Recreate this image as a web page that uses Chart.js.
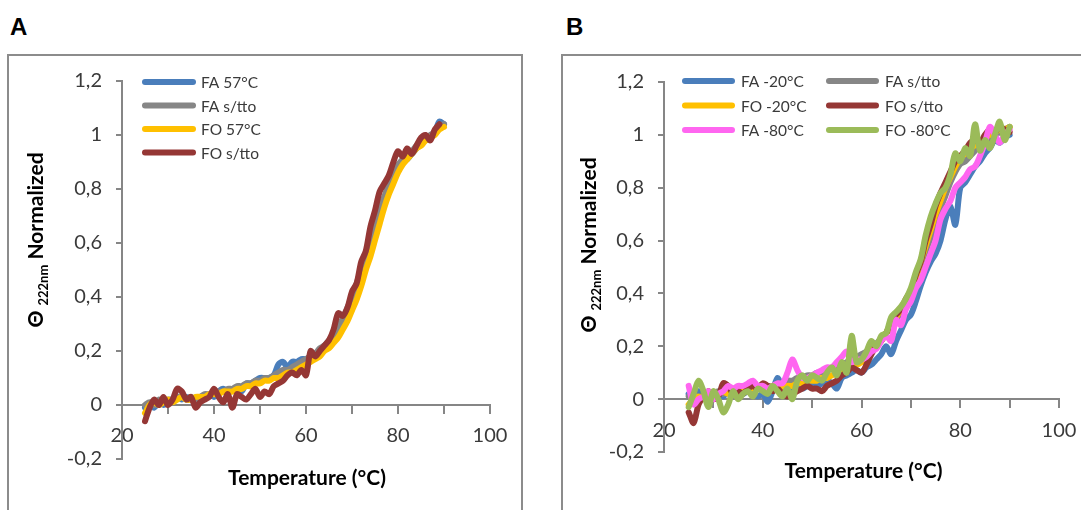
<!DOCTYPE html>
<html><head><meta charset="utf-8">
<script src="https://cdn.jsdelivr.net/npm/chart.js@4.4.1/dist/chart.umd.min.js"></script>
<style>
html,body{margin:0;padding:0;background:#fff;width:1081px;height:510px;overflow:hidden;position:relative;}
.panel{position:absolute;border:2px solid #8c8c8c;box-sizing:border-box;}
canvas{position:absolute;}
.lbl{position:absolute;font:bold 24px "Liberation Sans",Arial,sans-serif;color:#000;line-height:24px;}
</style></head><body>
<div class="lbl" style="left:10px;top:15px">A</div>
<div class="lbl" style="left:566px;top:15px">B</div>
<div class="panel" style="left:7px;top:54px;width:516px;height:480px"></div>
<div class="panel" style="left:561px;top:54px;width:560px;height:480px"></div>
<canvas id="cA" width="514" height="455" style="left:8px;top:55px"></canvas>
<canvas id="cB" width="545" height="455" style="left:562px;top:55px"></canvas>
<script>
// ---- data ----
const temps = [25,26,27,28,29,30,31,32,33,34,35,36,37,38,39,40,41,42,43,44,45,46,47,48,49,50,51,52,53,54,55,56,57,58,59,60,61,62,63,64,65,66,67,68,69,70,71,72,73,74,75,76,77,78,79,80,81,82,83,84,85,86,87,88,89,90];

// Panel A
const A_labels = ['FA 57°C','FA s/tto','FO 57°C','FO s/tto'];
const A_FA_57 = [-0.01,0.0,-0.01,0.01,0.0,0.01,0.02,0.03,0.02,0.03,0.02,0.01,0.02,0.03,0.04,0.03,0.05,0.06,0.05,0.06,0.06,0.05,0.08,0.08,0.09,0.1,0.1,0.1,0.11,0.15,0.16,0.14,0.16,0.16,0.17,0.17,0.18,0.19,0.2,0.22,0.23,0.25,0.27,0.3,0.34,0.38,0.42,0.48,0.53,0.58,0.63,0.69,0.74,0.79,0.84,0.88,0.9,0.91,0.93,0.95,0.97,0.98,0.99,1.01,1.05,1.04];
const A_FA_stto = [0.0,0.01,0.0,0.02,0.01,0.02,0.02,0.03,0.03,0.02,0.03,0.02,0.03,0.04,0.04,0.05,0.05,0.05,0.06,0.06,0.07,0.07,0.08,0.08,0.09,0.09,0.1,0.1,0.11,0.12,0.13,0.13,0.14,0.15,0.16,0.17,0.18,0.19,0.21,0.22,0.24,0.26,0.29,0.32,0.36,0.4,0.45,0.5,0.56,0.62,0.67,0.73,0.77,0.82,0.86,0.89,0.91,0.93,0.94,0.96,0.97,0.99,1.0,1.01,1.03,1.04];
const A_FO_57 = [-0.03,0.0,0.01,0.0,0.01,0.02,0.01,0.02,0.03,0.02,0.02,0.03,0.03,0.03,0.04,0.04,0.04,0.05,0.05,0.05,0.06,0.06,0.07,0.07,0.08,0.08,0.09,0.09,0.1,0.1,0.11,0.12,0.12,0.13,0.14,0.15,0.16,0.17,0.18,0.2,0.21,0.23,0.25,0.28,0.31,0.35,0.39,0.44,0.5,0.55,0.61,0.67,0.73,0.78,0.82,0.86,0.89,0.91,0.93,0.95,0.96,0.98,0.99,1.0,1.02,1.03];
const A_FO_stto = [-0.06,-0.01,0.02,0.0,0.03,0.0,0.02,0.06,0.05,0.02,0.03,-0.01,0.01,0.02,0.03,0.06,0.03,0.01,0.04,-0.01,0.04,0.03,0.02,0.04,0.06,0.03,0.05,0.04,0.07,0.08,0.09,0.11,0.12,0.11,0.13,0.11,0.2,0.18,0.2,0.22,0.24,0.28,0.34,0.33,0.36,0.42,0.45,0.53,0.57,0.66,0.72,0.79,0.82,0.85,0.9,0.94,0.92,0.95,0.93,0.96,0.99,1.0,0.98,1.02,1.04,null];

// Panel B
const B_labels = ['FA -20°C','FA s/tto','FO -20°C','FO s/tto','FA -80°C','FO -80°C'];
const B_FA_20 = [0.02,0.0,0.03,0.01,0.02,0.0,0.02,0.01,0.03,0.02,0.03,0.02,0.03,0.02,0.01,0.02,-0.01,0.03,0.08,0.04,0.03,0.04,0.05,0.04,0.05,0.06,0.05,0.06,0.07,0.06,0.04,0.08,0.09,0.1,0.11,0.1,0.12,0.13,0.15,0.17,0.2,0.17,0.22,0.26,0.3,0.32,0.37,0.43,0.48,0.52,0.55,0.6,0.68,0.73,0.66,0.8,0.82,0.85,0.88,0.9,0.93,0.95,0.98,0.97,0.99,1.0];
const B_FA_stto = [0.01,0.02,0.0,0.02,0.01,0.02,0.03,0.02,0.03,0.03,0.02,0.04,0.03,0.04,0.04,0.05,0.05,0.05,0.06,0.06,0.07,0.07,0.08,0.08,0.09,0.09,0.1,0.1,0.11,0.12,0.12,0.13,0.14,0.15,0.16,0.17,0.18,0.2,0.21,0.23,0.25,0.27,0.3,0.33,0.37,0.41,0.46,0.51,0.56,0.61,0.66,0.72,0.77,0.82,0.86,0.89,0.9,0.92,0.94,0.96,0.97,0.99,1.0,1.01,1.02,1.03];
const B_FO_20 = [-0.02,0.0,0.01,0.0,0.02,0.01,0.02,0.03,0.02,0.03,0.03,0.03,0.04,0.04,0.04,0.05,0.04,0.05,0.05,0.04,0.05,0.05,0.06,0.06,0.07,0.07,0.07,0.08,0.08,0.09,0.1,0.11,0.12,0.13,0.13,0.14,0.16,0.18,0.2,0.22,0.25,0.28,0.31,0.34,0.37,0.41,0.46,0.52,0.58,0.64,0.7,0.75,0.8,0.84,0.88,0.91,0.93,0.95,0.96,0.97,0.99,1.0,1.01,1.02,1.02,1.03];
const B_FO_stto = [-0.05,-0.09,-0.02,0.01,0.03,0.0,0.01,0.06,0.05,0.02,0.03,0.02,0.04,0.05,0.04,0.06,0.05,0.03,0.04,0.02,0.01,0.02,0.03,0.04,0.05,0.04,0.04,0.03,0.05,0.06,0.07,0.09,0.1,0.12,0.11,0.1,0.13,0.17,0.2,0.22,0.25,0.29,0.32,0.34,0.38,0.41,0.47,0.52,0.6,0.66,0.73,0.78,0.82,0.86,0.9,0.92,0.94,0.97,0.98,0.97,1.0,1.02,1.01,1.03,1.02,1.01];
const B_FA_80 = [0.05,-0.02,0.0,0.01,0.03,0.0,0.02,0.03,0.05,0.04,0.05,0.05,0.06,0.07,0.05,0.05,0.04,0.05,0.06,0.06,0.1,0.15,0.11,0.08,0.08,0.09,0.1,0.11,0.12,0.12,0.14,0.16,0.18,0.14,0.15,0.15,0.16,0.18,0.19,0.22,0.24,0.22,0.3,0.28,0.34,0.37,0.42,0.45,0.5,0.55,0.6,0.68,0.72,0.75,0.8,0.82,0.84,0.87,0.88,0.92,0.97,1.03,1.0,0.97,1.0,1.02];
const B_FO_80 = [-0.03,0.02,0.07,0.03,-0.03,0.03,0.0,-0.05,-0.02,0.03,0.0,0.02,0.03,0.01,0.04,0.03,0.02,0.05,0.03,0.01,0.04,0.0,0.07,0.09,0.07,0.09,0.08,0.07,0.1,0.12,0.09,0.14,0.1,0.24,0.14,0.15,0.18,0.22,0.2,0.24,0.25,0.31,0.33,0.35,0.38,0.42,0.48,0.53,0.62,0.69,0.74,0.78,0.8,0.85,0.93,0.9,0.95,0.92,1.04,0.94,0.98,0.95,1.0,1.05,0.98,1.03];

const yTickValues = [-0.2,0,0.2,0.4,0.6,0.8,1.0,1.2];
const xTickLabels = ['20','40','60','80','100'];

// ---- styling ----
const AXIS = '#868686';
const TICK = '#3a3a3a';
const C_BLUE = '#4a7ebb', C_GRAY = '#868686', C_YEL = '#ffc000', C_RED = '#953735', C_PINK = '#ff66f0', C_GREEN = '#9bbb59';

function series(vals){ return temps.map((t,i)=>({x:t, y:vals[i]})); }

const lineLegend = {
  id:'lineLegend',
  afterDraw(chart, args, o){
    const ctx = chart.ctx;
    chart.data.datasets.forEach((ds,i)=>{
      const col = i % o.cols, row = Math.floor(i / o.cols);
      const x = o.x + col*o.colW, y = o.y + row*o.rowH;
      ctx.save();
      ctx.strokeStyle = ds.borderColor; ctx.lineWidth = o.lineW; ctx.lineCap = 'round';
      ctx.beginPath(); ctx.moveTo(x+3, y); ctx.lineTo(x+o.len-3, y); ctx.stroke();
      ctx.fillStyle = TICK; ctx.font = '15.5px Lato'; ctx.textBaseline = 'middle'; ctx.textAlign = 'left';
      ctx.fillText(ds.label, x + o.len + o.gap, y + 1);
      ctx.restore();
    });
  }
};

const axisTitles = {
  id:'axisTitles',
  afterDraw(chart, args, o){
    const ctx = chart.ctx, a = chart.chartArea;
    ctx.save();
    ctx.fillStyle = '#000';
    ctx.font = 'bold 21px Lato';
    ctx.textAlign = 'center'; ctx.textBaseline = 'middle';
    ctx.fillText('Temperature (°C)', (a.left + a.right)/2 + o.xDx, a.bottom + o.xDy);
    // rotated y title with subscript
    ctx.translate(a.left - o.yDx, a.top + o.yCy);
    ctx.rotate(-Math.PI/2);
    ctx.textAlign = 'left'; ctx.textBaseline = 'alphabetic';
    const big = 'bold 21px Lato', small = 'bold 13px Lato';
    const parts = [['Θ ', big, 0], ['222nm', small, 5], [' Normalized', big, 0]];
    let total = 0;
    parts.forEach(p=>{ ctx.font = p[1]; total += ctx.measureText(p[0]).width; });
    let x = -total/2;
    parts.forEach(p=>{ ctx.font = p[1]; ctx.fillText(p[0], x, 7 + p[2]); x += ctx.measureText(p[0]).width; });
    ctx.restore();
  }
};

function fmtY(v){
  const r = Math.round(v*10)/10;
  return String(r).replace('.', ',');
}

function makeChart(id, labels, valsList, colors, cfg){
  const n = valsList.length;
  const datasets = valsList.map((vals,i)=>({
    label: labels[i], data: series(vals), borderColor: colors[i], backgroundColor: colors[i],
    borderWidth: 6, pointRadius: 0, tension: 0.3, borderCapStyle:'round', borderJoinStyle:'round',
    fill:false, order: n - i
  }));
  return new Chart(document.getElementById(id), {
    type:'line',
    data:{ datasets },
    plugins:[lineLegend, axisTitles],
    options:{
      responsive:false, animation:false, devicePixelRatio:1,
      layout:{ padding:{ left:0, right:cfg.padR, top:cfg.padT, bottom:cfg.padB } },
      plugins:{ legend:{display:false}, tooltip:{enabled:false},
        lineLegend: cfg.legend, axisTitles: cfg.titles },
      scales:{
        x:{ type:'linear', min:20, max:100, position:{y:0},
          afterFit: s => { s.height = 0; },
          border:{ color:AXIS, width:2 },
          grid:{ drawOnChartArea:false, drawTicks:true, tickLength:8, color:AXIS, lineWidth:2 },
          ticks:{ stepSize:10, autoSkip:false, maxRotation:0, padding:11, color:TICK,
            font:{ family:'Lato', size:20 },
            callback: v => xTickLabels.includes(String(v)) ? String(v) : '' } },
        y:{ type:'linear', min:-0.2, max:1.2,
          afterFit: s => { s.width = cfg.yW; },
          afterBuildTicks: s => { s.ticks = yTickValues.map(v=>({value:v})); },
          border:{ color:AXIS, width:2 },
          grid:{ drawOnChartArea:false, drawTicks:true, tickLength:6, color:AXIS, lineWidth:2 },
          ticks:{ padding:14, color:TICK, font:{ family:'Lato', size:20 }, callback: fmtY } }
      }
    }
  });
}

makeChart('cA', A_labels, [A_FA_57, A_FA_stto, A_FO_57, A_FO_stto], [C_BLUE, C_GRAY, C_YEL, C_RED], {
  yW:114, padR:32, padT:26, padB:51,
  legend:{ x:134, y:27, cols:1, colW:0, rowH:23.5, len:54, gap:5, lineW:6 },
  titles:{ xDx:1, xDy:19, yDx:86, yCy:159 }
});
makeChart('cB', B_labels, [B_FA_20, B_FA_stto, B_FO_20, B_FO_stto, B_FA_80, B_FO_80], [C_BLUE, C_GRAY, C_YEL, C_RED, C_PINK, C_GREEN], {
  yW:102, padR:48, padT:27, padB:58,
  legend:{ x:120, y:26, cols:2, colW:144, rowH:24.5, len:53, gap:6, lineW:6 },
  titles:{ xDx:2, xDy:19, yDx:75, yCy:163 }
});
</script>
</body></html>
